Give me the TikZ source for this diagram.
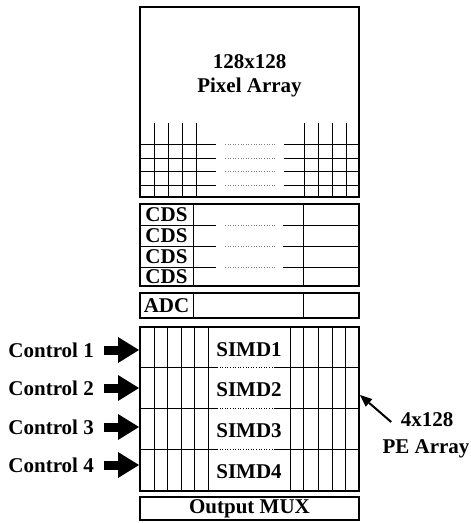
\documentclass[tikz,border=0pt]{standalone}
\usepackage{fontspec}
\setmainfont{Liberation Serif}
\usetikzlibrary{arrows.meta}

\begin{document}
\begin{tikzpicture}[x=1pt, y=-1pt, font=\bfseries\fontsize{21}{23}\selectfont,
  blk/.style={draw, line width=2pt, inner sep=0pt},
  gridline/.style={line width=0.9pt},
  fade/.style={line width=0.6pt, dotted, gray},
  ctrl/.style={anchor=east, inner sep=0pt},
  feed/.style={line width=9pt, -{Triangle[length=21pt,width=26pt,line width=0pt]}},
  note/.style={line width=2pt, -{Triangle[length=12pt,width=10pt,line width=0pt]}}]
\useasboundingbox (0,0) rectangle (471,523);
% blocks of the chip
\node[blk, minimum width=219, minimum height=190] (pix) at (249.5,102) {};
\node[blk, minimum width=219, minimum height=82] (cds) at (249.5,245) {};
\node[blk, minimum width=219, minimum height=25] (adc) at (249.5,305.5) {};
\node[blk, minimum width=219, minimum height=164] (pe) at (249.5,409) {};
\node[blk, minimum width=219, minimum height=23] (mux) at (249.5,508.5) {Output MUX};
% pixel array
\node (pixtop) at (249.5,62) {128x128};
\node (pixname) at (249.5,87) {Pixel Array};
\foreach \x in {154,168,182,196,304,318,332,346}
  \draw[gridline] (\x,123) -- (\x,197);
\foreach \y in {144,158,171,185}{
  \draw[gridline] (140,\y) -- (216,\y);
  \draw[gridline] (284,\y) -- (359,\y);
  \draw[fade] (225,\y) -- (275,\y);
}
% CDS rows
\draw[gridline] (193,204) -- (193,286);
\draw[gridline] (303,204) -- (303,286);
\foreach \y in {225,246,267}{
  \draw[gridline] (140,\y) -- (216,\y);
  \draw[gridline] (283,\y) -- (359,\y);
  \draw[fade] (225,\y) -- (275,\y);
}
\foreach \i/\y in {1/214.5,2/235.5,3/256.5,4/276.5}
  \node[inner sep=0pt] (cds\i) at (166.5,\y) {CDS};
% ADC row
\draw[gridline] (193,293) -- (193,318);
\draw[gridline] (303,293) -- (303,318);
\node[inner sep=0pt] (adclab) at (166.5,305.5) {ADC};
% PE array
\foreach \x in {154,167,181,194,208,290,303,318,332,345}
  \draw[gridline] (\x,327) -- (\x,491);
\foreach \y in {367,408,449}{
  \draw[gridline] (140,\y) -- (217,\y);
  \draw[gridline] (275,\y) -- (359,\y);
  \draw[fade, black] (217,\y) -- (275,\y);
}
\foreach \i/\y in {1/350,2/390,3/431,4/472}
  \node (simd\i) at (249,\y) {SIMD\i};
% control inputs
\foreach \i/\y in {1/350,2/388,3/427,4/465}{
  \node[ctrl] (ctl\i) at (94,\y) {Control \i};
  \draw[feed] ([xshift=10pt]ctl\i.east) -- (ctl\i.east -| pe.west);
}
% PE label
\node (pedim) at (427,420) {4x128};
\node (pename) at (426,449) {PE Array};
\draw[note] ([shift={(-6,2)}]pedim.west) -- ([shift={(0,-14)}]pe.east);
\end{tikzpicture}
\end{document}
